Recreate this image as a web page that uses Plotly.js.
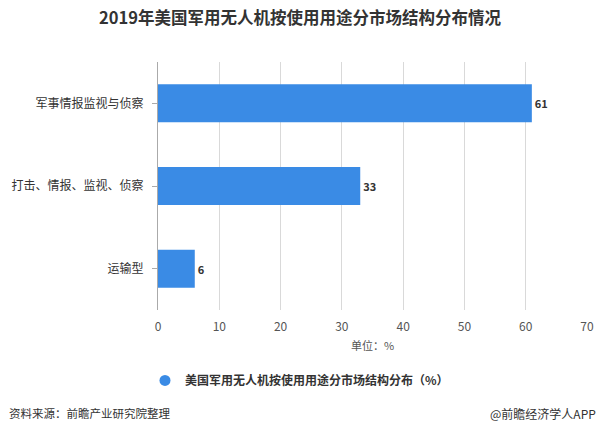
<!DOCTYPE html>
<html>
<head>
<meta charset="utf-8">
<script src="https://cdn.plot.ly/plotly-3.0.1.min.js"></script>
<style>
  html, body { margin: 0; padding: 0; background: #fff; }
  #chart { width: 600px; height: 436px; }
</style>
</head>
<body>
<div id="chart"></div>
<script>
// 2019年美国军用无人机按使用用途分市场结构分布（%）
const categories = ['军事情报监视与侦察', '打击、情报、监视、侦察', '运输型'];
const shares = [61, 33, 6];
const xTicks = [0, 10, 20, 30, 40, 50, 60, 70];

const barColor = '#3a8be5';
const fontCJK = '"Noto Sans CJK SC", "Noto Sans", sans-serif';

const data = [
  {
    type: 'bar',
    orientation: 'h',
    x: shares,
    y: categories,
    width: 0.46,
    marker: { color: barColor },
    text: shares.map(String),
    textposition: 'outside',
    textfont: { family: fontCJK, size: 11, color: '#333', weight: 'bold' },
    cliponaxis: false,
    showlegend: false,
    hoverinfo: 'x+y'
  },
  {
    // legend entry only (round marker like the original)
    type: 'scatter',
    mode: 'markers',
    x: [null],
    y: [null],
    name: '美国军用无人机按使用用途分市场结构分布（%）',
    marker: { color: barColor, size: 11, symbol: 'circle' },
    showlegend: true
  }
];

const layout = {
  width: 600,
  height: 436,
  paper_bgcolor: '#ffffff',
  plot_bgcolor: '#ffffff',
  font: { family: fontCJK, color: '#333' },
  title: {
    text: '<b>2019年美国军用无人机按使用用途分市场结构分布情况</b>',
    font: { family: fontCJK, size: 16.5, color: '#333' },
    x: 0.5,
    xanchor: 'center',
    y: 0.958,
    yanchor: 'middle'
  },
  margin: { l: 158, r: 13, t: 62, b: 126 },
  bargap: 0.54,
  xaxis: {
    range: [0, 70],
    tickvals: xTicks,
    ticktext: xTicks.map(String),
    showgrid: true,
    gridcolor: '#d9d9d9',
    gridwidth: 1,
    zeroline: false,
    showline: false,
    ticks: '',
    ticklabelstandoff: 8,
    tickfont: { family: fontCJK, size: 12, color: '#555' },
    title: {
      text: '单位：%',
      font: { family: fontCJK, size: 11, color: '#555' },
      standoff: 9
    },
    fixedrange: true
  },
  yaxis: {
    type: 'category',
    autorange: 'reversed',
    showline: true,
    linecolor: '#aaaaaa',
    linewidth: 1,
    ticks: 'outside',
    ticklen: 5,
    tickcolor: '#aaaaaa',
    ticklabelstandoff: 6,
    showgrid: false,
    tickfont: { family: fontCJK, size: 12, color: '#333' },
    fixedrange: true
  },
  legend: {
    orientation: 'h',
    x: (145 - 158) / 429,
    xanchor: 'left',
    y: -0.284,
    yanchor: 'middle',
    font: { family: fontCJK, size: 12, color: '#333', weight: 'bold' }
  },
  annotations: [
    {
      text: '资料来源：前瞻产业研究院整理',
      xref: 'paper', yref: 'paper',
      x: -151 / 429, xanchor: 'left',
      y: (310 - 413) / 248, yanchor: 'middle',
      showarrow: false,
      font: { family: fontCJK, size: 11.5, color: '#333' }
    },
    {
      text: '@前瞻经济学人APP',
      xref: 'paper', yref: 'paper',
      x: (598 - 158) / 429, xanchor: 'right',
      y: (310 - 413) / 248, yanchor: 'middle',
      showarrow: false,
      font: { family: fontCJK, size: 12, color: '#333' }
    }
  ]
};

Plotly.newPlot('chart', data, layout, { displayModeBar: false, responsive: false });
</script>
</body>
</html>
